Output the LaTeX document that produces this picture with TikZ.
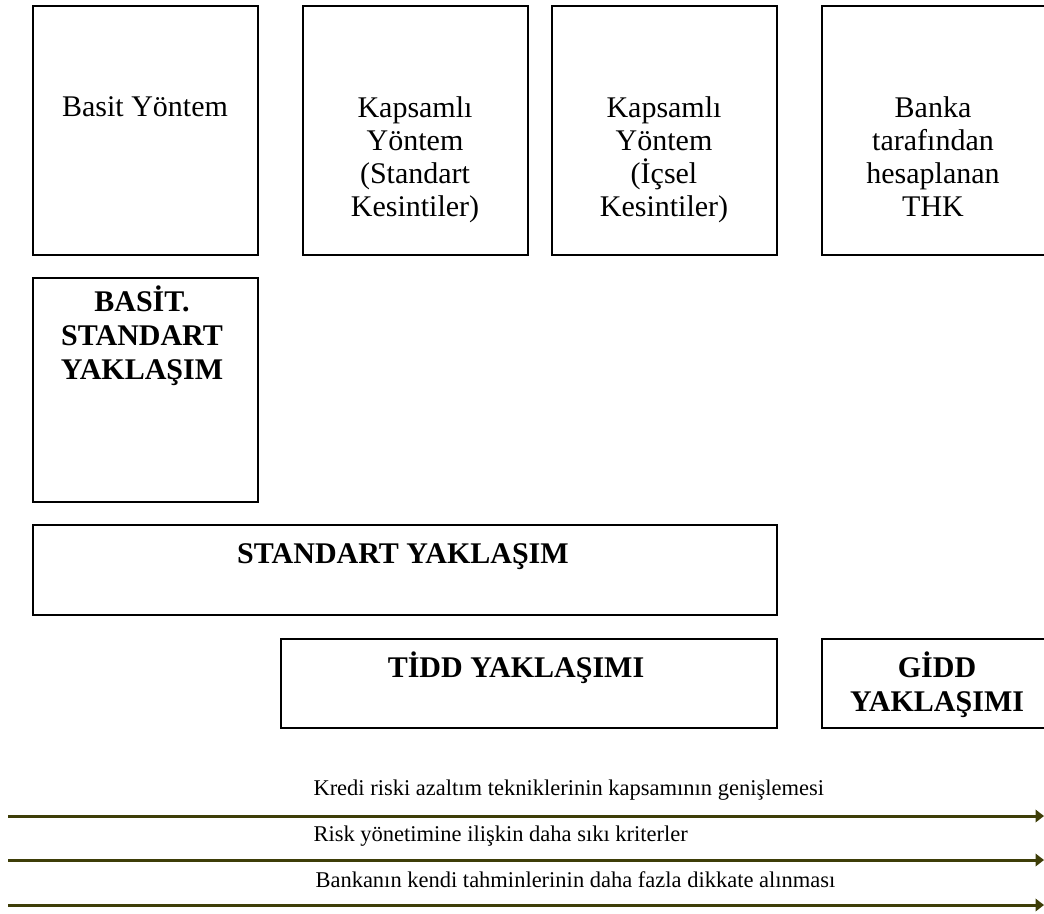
\documentclass[tikz,border=0pt]{standalone}
\usepackage{fontspec}
\setmainfont{Liberation Serif}
\usetikzlibrary{arrows.meta}
\definecolor{oklinie}{RGB}{62,62,8}

\begin{document}
\begin{tikzpicture}[x=0.4pt,y=-0.4pt]
\useasboundingbox (0,0) rectangle (1044,913);

\begin{scope}[every node/.style={rectangle,draw,line width=0.9pt,inner sep=0pt}]
    \node[minimum width=90pt,minimum height=99.6pt] (B1) at (145.5,130.5) {};
    \node[minimum width=90pt,minimum height=99.6pt] (B2) at (415.5,130.5) {};
    \node[minimum width=90pt,minimum height=99.6pt] (B3) at (664.5,130.5) {};
    \node[minimum width=90pt,minimum height=99.6pt] (B4) at (934.5,130.5) {};
    \node[minimum width=90pt,minimum height=89.6pt] (BS) at (145.5,390) {};
    \node[minimum width=297.6pt,minimum height=36pt] (SY) at (405,570) {};
    \node[minimum width=198.4pt,minimum height=35.6pt] (TY) at (529,683.5) {};
    \node[minimum width=90pt,minimum height=35.6pt] (GY) at (934.5,683.5) {};
\end{scope}

\begin{scope}[every node/.style={align=center,inner sep=0pt,font=\fontsize{12}{13.2}\selectfont}]
    \node (T1) at (145,107) {Basit Yöntem};
    \node (T2) at (415,160) {Kapsamlı\\Yöntem\\(Standart\\Kesintiler)};
    \node (T3) at (664,160) {Kapsamlı\\Yöntem\\(İçsel\\Kesintiler)};
    \node (T4) at (933,157) {Banka\\tarafından\\hesaplanan\\THK};
\end{scope}

\begin{scope}[every node/.style={align=center,inner sep=0pt,font=\fontsize{12}{13.6}\bfseries}]
    \node (T5) at (142,336) {BASİT.\\STANDART\\YAKLAŞIM};
    \node (T6) at (403,557) {STANDART YAKLAŞIM};
    \node (T7) at (516,668) {TİDD YAKLAŞIMI};
    \node (T8) at (937,685) {GİDD\\YAKLAŞIMI};
\end{scope}

% oklar
\coordinate (s1) at (8,816);  \coordinate (e1) at (1044,816);
\coordinate (s2) at (8,860);  \coordinate (e2) at (1044,860);
\coordinate (s3) at (8,905);  \coordinate (e3) at (1044,905);

\begin{scope}[every node/.style={anchor=west,inner sep=0pt,font=\fontsize{9}{11}\selectfont}]
    \node (L1) at (313,790) {Kredi riski azaltım tekniklerinin kapsamının genişlemesi};
    \node (L2) at (313,836) {Risk yönetimine ilişkin daha sıkı kriterler};
    \node (L3) at (315,880) {Bankanın kendi tahminlerinin daha fazla dikkate alınması};
\end{scope}

\begin{scope}[>={Triangle[length=3.4pt,width=5pt]},
              every edge/.style={draw=oklinie,line width=1.2pt}]
    \path [->] (s1) edge (e1);
    \path [->] (s2) edge (e2);
    \path [->] (s3) edge (e3);
\end{scope}
\end{tikzpicture}
\end{document}
